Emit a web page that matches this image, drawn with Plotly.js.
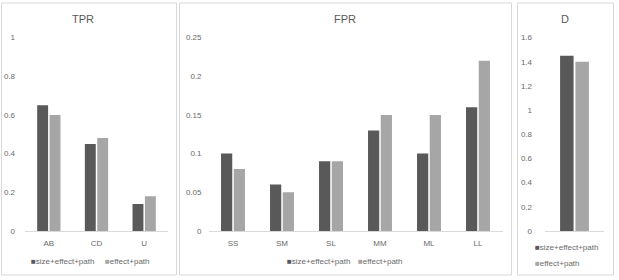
<!DOCTYPE html>
<html><head><meta charset="utf-8">
<script src="https://cdn.plot.ly/plotly-3.0.1.min.js"></script>
<style>html,body{margin:0;padding:0;background:#fff}#c{width:619px;height:280px}</style>
</head><body><div id="c"></div>
<script>
const seriesNames = ["size+effect+path", "effect+path"];
const tprCats = ["AB", "CD", "U"];
const tprFull = [0.65, 0.45, 0.14];
const tprEff = [0.60, 0.48, 0.18];
const fprCats = ["SS", "SM", "SL", "MM", "ML", "LL"];
const fprFull = [0.10, 0.06, 0.09, 0.13, 0.10, 0.16];
const fprEff = [0.08, 0.05, 0.09, 0.15, 0.15, 0.22];
const dCats = [""];
const dFull = [1.45];
const dEff = [1.40];

const W = 619, H = 280;
const px = v => v / W, py = v => 1 - v / H;
const dark = "#595959", light = "#a6a6a6", txt = "#6a6a6a", grid = "#d9d9d9";
const FONT = "Liberation Sans, Arial, sans-serif";

function bars(x, y, name, color, xa, ya) {
  return {type: "bar", x: x, y: y, name: name, marker: {color: color},
    xaxis: xa, yaxis: ya, showlegend: false, hoverinfo: "skip"};
}
const data = [
  bars(tprCats, tprFull, seriesNames[0], dark, "x", "y"),
  bars(tprCats, tprEff, seriesNames[1], light, "x", "y"),
  bars(fprCats, fprFull, seriesNames[0], dark, "x2", "y2"),
  bars(fprCats, fprEff, seriesNames[1], light, "x2", "y2"),
  bars(dCats, dFull, seriesNames[0], dark, "x3", "y3"),
  bars(dCats, dEff, seriesNames[1], light, "x3", "y3"),
];

const yDom = [py(231), py(37.5)];
function xax(d0, d1, anchor) {
  return {domain: [px(d0), px(d1)], anchor: anchor, showline: true, linecolor: grid, linewidth: 1,
    ticks: "", ticklabelstandoff: 4, tickfont: {size: 8, color: txt, family: FONT},
    showgrid: false, zeroline: false, fixedrange: true};
}
function yax(range, dtick, anchor, standoff) {
  return {domain: yDom, anchor: anchor, range: range, dtick: dtick, tick0: 0, showline: false,
    showgrid: false, zeroline: false, ticks: "", ticklabelstandoff: standoff,
    tickfont: {size: 8, color: txt, family: FONT}, fixedrange: true};
}
function border(x0, y0, x1, y1) {
  return {type: "rect", xref: "paper", yref: "paper", x0: px(x0), x1: px(x1), y0: py(y1), y1: py(y0),
    line: {color: grid, width: 1}, fillcolor: "rgba(0,0,0,0)", layer: "below"};
}
function ann(x, y, text, size, anchor, color) {
  return {xref: "paper", yref: "paper", x: px(x), y: py(y), text: text, showarrow: false,
    xanchor: anchor || "center", yanchor: "middle", font: {size: size, color: color || txt, family: FONT}};
}
function leg(x, y, color, name) {
  return ann(x, y, '<span style="color:' + color + '">■</span>' + name, 8, "left");
}

const layout = {
  width: W, height: H, margin: {l: 0, r: 0, t: 0, b: 0},
  paper_bgcolor: "#fff", plot_bgcolor: "rgba(0,0,0,0)",
  barmode: "group", bargap: 0.48, bargroupgap: 0.12, showlegend: false,
  font: {family: FONT, color: txt},
  xaxis: xax(25, 168, "y"), yaxis: yax([0, 1], 0.2, "x", 9),
  xaxis2: xax(208.5, 502.5, "y2"), yaxis2: yax([0, 0.25], 0.05, "x2", 6),
  xaxis3: xax(545, 604, "y3"), yaxis3: yax([0, 1.6], 0.2, "x3", 12),
  shapes: [border(1.5, 3, 176.5, 275), border(179.5, 3, 511.5, 275), border(517.5, 3, 613.5, 275)],
  annotations: [
    ann(83, 19, "TPR", 11, "center", "#595959"), ann(345, 19, "FPR", 11, "center", "#595959"),
    ann(565, 19, "D", 11, "center", "#595959"),
    leg(29, 261, dark, seriesNames[0]), leg(103, 261, light, seriesNames[1]),
    leg(285, 261, dark, seriesNames[0]), leg(356, 261, light, seriesNames[1]),
    leg(533, 247, dark, seriesNames[0]), leg(533, 263, light, seriesNames[1]),
  ],
};
Plotly.newPlot("c", data, layout, {staticPlot: true, displayModeBar: false});
</script></body></html>
